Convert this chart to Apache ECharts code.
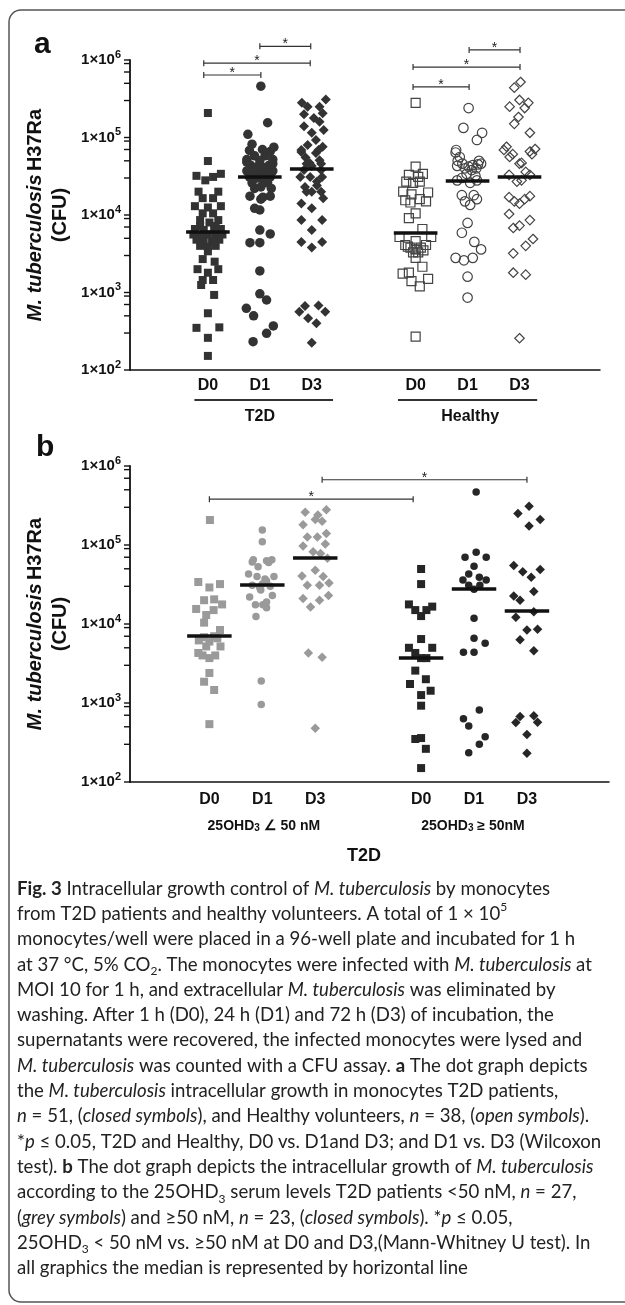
<!DOCTYPE html>
<html>
<head>
<meta charset="utf-8">
<script src="https://cdn.jsdelivr.net/npm/echarts@6/dist/echarts.min.js"></script>
<style>
  html, body { margin: 0; padding: 0; background: #fff; }
  #fig { width: 625px; height: 1305px; }
</style>
</head>
<body>
<div id="fig"></div>
<script>
// x slots of the six columns (one empty slot between the two groups)
const slots = [0, 1, 2, 4, 5, 6];
const dayLabels = ['D0', 'D1', 'D3', 'D0', 'D1', 'D3'];
const groupsA = ['T2D', 'Healthy'];
const groupsB = ['25OHD{sub|3} ∠ 50 nM', '25OHD{sub|3} ≥ 50nM'];
// tick marks on the CFU axis: 3, 5, 7, 9 and 10 in every decade
const yTicks = [100, 300, 500, 700, 900, 1000, 3000, 5000, 7000, 9000, 10000,
  30000, 50000, 70000, 90000, 100000, 300000, 500000, 700000, 900000, 1000000];

// panel a, each point: [horizontal spread within the column, CFU]
const aT2dD0 = [[0,2.07e5],[0,4.97e4],[-0.22,3.2e4],[0.25,3.4e4],[0.1,3.1e4],[-0.05,2.8e4],[-0.18,2.0e4],[0.2,2.0e4],
  [-0.1,1.65e4],[0.1,1.65e4],[-0.25,1.3e4],[0.25,1.3e4],[0,1.25e4],[-0.1,1.05e4],[0.1,1.05e4],[-0.15,8.6e3],[0.2,8.6e3],
  [0.03,8.0e3],[-0.25,6.6e3],[0.25,6.6e3],[-0.08,6.4e3],[0.12,6.4e3],[-0.28,5.6e3],[0.28,5.6e3],[-0.15,5.3e3],[0.15,5.3e3],
  [0,5.6e3],[-0.22,4.8e3],[0.22,4.8e3],[-0.08,4.5e3],[0.08,4.5e3],[-0.15,4.0e3],[0.15,4.0e3],[0,3.9e3],[0,3.4e3],
  [-0.1,2.7e3],[0.13,2.5e3],[-0.2,2.0e3],[0.2,2.0e3],[0,1.8e3],[-0.1,1.45e3],[0.1,1.45e3],[-0.13,1.25e3],[0.12,930],
  [0,540],[-0.22,350],[0.22,355],[0,260],[0,152],[-0.15,7.2e3],[0.15,7.2e3]];
const aT2dD1 = [[0.02,4.6e5],[0.15,1.55e5],[-0.23,1.1e5],[-0.15,8.2e4],[0.27,7.5e4],[0.05,7.0e4],[-0.2,6.8e4],[0.2,6.6e4],
  [-0.1,5.8e4],[0.1,5.8e4],[-0.25,5.2e4],[0.25,5.2e4],[0,5.0e4],[-0.18,4.4e4],[0.18,4.4e4],[-0.05,4.2e4],[0.08,4.1e4],
  [-0.25,3.7e4],[0.25,3.7e4],[-0.1,3.5e4],[0.1,3.5e4],[0,3.4e4],[-0.2,3.1e4],[0.2,3.1e4],[-0.05,3.0e4],[0.05,2.9e4],
  [-0.15,2.6e4],[0.15,2.6e4],[-0.1,2.2e4],[0.22,2.2e4],[0.02,2.3e4],[-0.19,1.75e4],[0.06,1.7e4],[0.2,1.75e4],[0.02,1.6e4],
  [-0.1,1.22e4],[0,1.16e4],[0,6.4e3],[0.2,5.7e3],[-0.19,4.4e3],[0,4.4e3],[0,1.9e3],[0,960],[0.13,800],[-0.26,625],
  [-0.12,500],[0.26,370],[0.13,297],[-0.13,232],[-0.25,4.8e4],[0.25,4.6e4]];
const aT2dD3 = [[0.27,3.1e5],[-0.19,2.8e5],[-0.08,2.5e5],[0.15,2.5e5],[-0.15,2.0e5],[0.21,2.05e5],[0.04,1.78e5],[0.15,1.6e5],
  [-0.15,1.4e5],[0,1.15e5],[0.23,1.25e5],[0.08,9.3e4],[-0.08,8.0e4],[0.21,7.6e4],[0.08,6.3e4],[-0.2,6.5e4],[0.15,5.1e4],
  [-0.04,4.7e4],[-0.2,6.9e4],[0.13,6.9e4],[-0.1,4.6e4],[0.18,4.6e4],[0,4.3e4],[-0.15,3.8e4],[0.18,3.8e4],[-0.22,3.1e4],
  [-0.03,3.1e4],[0.2,3.1e4],[-0.13,2.3e4],[0.1,2.4e4],[0,2.0e4],[0.18,2.0e4],[-0.1,2.0e4],[0.22,1.64e4],[-0.2,1.41e4],
  [0,1.22e4],[-0.2,8.6e3],[0.2,8.6e3],[0,6.4e3],[-0.2,4.5e3],[0.2,4.5e3],[0,3.8e3],[-0.13,670],[0.13,680],[-0.24,566],
  [0.26,566],[-0.07,465],[0.09,400],[0,225],[0.1,2.7e4],[-0.12,5.5e4]];
const aHealthyD0 = [[0,2.8e5],[0,4.2e4],[-0.13,3.3e4],[0.14,3.4e4],[0.05,3.1e4],[-0.18,2.7e4],[0.08,2.7e4],[-0.05,2.6e4],
  [-0.24,2.0e4],[0.24,1.95e4],[-0.08,1.85e4],[0.08,1.6e4],[-0.2,1.55e4],[0.2,1.5e4],[-0.1,1.45e4],[0,1.05e4],[-0.13,9.1e3],
  [0.13,6.6e3],[-0.31,5.2e3],[0.3,5.2e3],[0,4.6e3],[-0.2,4.1e3],[0.2,4.1e3],[-0.1,3.8e3],[0.1,3.8e3],[0,3.6e3],
  [-0.05,3.3e3],[0.05,3.3e3],[0,2.8e3],[0.13,2.15e3],[-0.25,1.75e3],[-0.13,1.8e3],[-0.08,1.4e3],[0.24,1.5e3],[0.08,1.2e3],
  [0,270],[-0.15,3.9e3],[0.15,3.5e3]];
const aHealthyD1 = [[0.02,2.4e5],[-0.08,1.33e5],[0.28,1.15e5],[0.18,9.3e4],[-0.22,6.9e4],[-0.23,6.4e4],[-0.15,5.6e4],
  [-0.19,5.0e4],[0.22,5.0e4],[0.26,4.6e4],[-0.1,4.6e4],[0.1,4.4e4],[0.02,4.2e4],[-0.05,4.0e4],[0.17,4.0e4],[-0.2,4.3e4],
  [0.2,4.5e4],[0.08,3.8e4],[-0.11,3.0e4],[0.15,3.2e4],[0.05,2.6e4],[0.18,2.8e4],[-0.2,2.8e4],[-0.11,1.8e4],[0.12,1.8e4],
  [-0.05,1.5e4],[0.18,1.6e4],[0.05,1.35e4],[0,7.9e3],[-0.11,5.9e3],[0.13,4.5e3],[0.26,3.6e3],[-0.23,2.8e3],[-0.07,2.6e3],
  [0.1,2.8e3],[0,1.6e3],[0,860],[-0.02,3.4e4]];
const aHealthyD3 = [[0.02,5.2e5],[-0.1,4.4e5],[0,3.05e5],[0.17,2.8e5],[-0.19,2.5e5],[0.1,2.4e5],[-0.02,1.84e5],[-0.1,1.5e5],
  [0.2,1.15e5],[-0.25,7.6e4],[0.3,7.1e4],[-0.13,6.1e4],[0.24,6.1e4],[-0.3,6.9e4],[0.2,6.6e4],[0.04,4.7e4],[-0.19,5.6e4],
  [0,4.6e4],[-0.2,3.3e4],[0.12,3.6e4],[0.2,3.3e4],[-0.05,2.7e4],[0.04,2.8e4],[-0.2,1.7e4],[-0.1,1.5e4],[0,1.4e4],
  [0.1,1.6e4],[0.2,1.75e4],[-0.2,1.03e4],[-0.12,6.8e3],[0.2,8.6e3],[0.26,4.9e3],[0.12,4.0e3],[-0.12,3.2e3],[-0.12,1.8e3],
  [0.12,1.7e3],[0,257],[0,7.3e3]];
const aMedians = [6.0e3, 3.1e4, 3.9e4, 5.9e3, 2.8e4, 3.1e4];
// brackets: [from slot, to slot, height in CFU]
const aBrackets = [[-0.08,1.02,6.4e5],[-0.08,1.97,9.1e5],[1,1.98,1.5e6],[3.95,5.03,4.5e5],[3.95,6.01,8.1e5],[5.03,6.01,1.35e6]];

// panel b
const bLowD0 = [[0.01,2.07e5],[-0.21,3.4e4],[0,2.9e4],[0.2,3.2e4],[-0.1,2.0e4],[0.09,2.05e4],[0.24,1.77e4],[-0.25,1.55e4],
  [0.08,1.5e4],[-0.06,1.3e4],[-0.1,1.04e4],[0.2,8.4e3],[-0.1,6.8e3],[0.09,7.0e3],[0,6.0e3],[-0.06,5.2e3],[0.21,5.2e3],
  [-0.21,4.3e3],[0.11,4.0e3],[0,3.7e3],[-0.13,4.0e3],[0,2.4e3],[-0.1,1.86e3],[0.09,1.46e3],[0,540],[0.15,6.6e3],[-0.2,6.2e3]];
const bLowD1 = [[0,1.55e5],[0,1.1e5],[-0.17,6.5e4],[0.08,6.3e4],[0.18,6.5e4],[-0.08,5.3e4],[-0.26,4.3e4],[-0.1,4.0e4],
  [0.05,3.7e4],[0.22,4.0e4],[-0.19,3.1e4],[-0.03,2.7e4],[0.15,3.0e4],[0.08,3.5e4],[-0.24,2.2e4],[0.19,2.3e4],[-0.13,1.75e4],
  [0.01,1.75e4],[0.08,1.6e4],[0.08,1.9e4],[-0.12,1.24e4],[-0.02,1.9e3],[-0.02,960],[-0.19,6.1e4],[0.12,6.0e4],[0,3.2e4],
  [-0.05,2.9e4]];
const bLowD3 = [[-0.19,2.6e5],[0.21,2.8e5],[0.05,2.4e5],[-0.23,1.8e5],[0,2.1e5],[0.13,2.0e5],[-0.15,1.26e5],[0.04,1.26e5],
  [0.21,1.4e5],[-0.23,9.7e4],[0.19,1.03e5],[-0.04,8.2e4],[0.1,7.8e4],[0.23,6.8e4],[0,4.8e4],[-0.25,4.06e4],[0.15,4.0e4],
  [-0.15,3.1e4],[0.08,3.1e4],[0.26,3.3e4],[-0.23,2.1e4],[0.08,2.0e4],[0.25,2.3e4],[-0.09,1.64e4],[-0.13,4.3e3],[0.13,3.8e3],
  [0,478]];
const bHighD0 = [[0,4.97e4],[0,3.2e4],[-0.23,1.77e4],[0.21,1.66e4],[-0.11,1.5e4],[0.1,1.5e4],[0,1.26e4],[0,6.45e3],
  [-0.23,5.0e3],[0.21,5.0e3],[-0.11,4.3e3],[0,3.7e3],[0.1,3.7e3],[-0.11,2.57e3],[0.09,2.0e3],[-0.21,1.74e3],[0.18,1.43e3],
  [0,1.26e3],[0,925],[-0.11,350],[0,360],[0.09,263],[0,150]];
const bHighD1 = [[0.04,4.7e5],[-0.17,7.0e4],[0.04,8.1e4],[0.23,7.0e4],[0,5.4e4],[-0.1,4.3e4],[0.1,3.9e4],[-0.21,3.6e4],
  [0.23,3.6e4],[-0.1,3.1e4],[0.11,3.1e4],[0,2.75e4],[0,1.18e4],[0,6.6e3],[0.21,5.7e3],[-0.2,4.4e3],[0,4.4e3],[0.1,814],
  [-0.2,630],[-0.1,513],[0.21,373],[0.1,300],[-0.1,234]];
const bHighD3 = [[0.04,3.1e5],[-0.17,2.5e5],[0.25,2.1e5],[0.04,1.74e5],[-0.25,5.5e4],[-0.08,4.6e4],[0.25,4.9e4],[0.08,3.9e4],
  [0.13,2.57e4],[-0.25,2.26e4],[-0.13,2.0e4],[0.13,1.43e4],[-0.21,1.22e4],[0,8.4e3],[0.2,8.6e3],[-0.13,6.3e3],[0.13,4.6e3],
  [-0.13,675],[0.13,690],[-0.21,565],[0.2,570],[0,400],[0,231]];
const bMedians = [7.0e3, 3.1e4, 6.8e4, 3.7e3, 2.8e4, 1.46e4];
const bBrackets = [[0,3.85,3.8e5],[2.13,6,6.7e5]];

const sans = '"Liberation Sans", Arial, sans-serif';
const ink = '#111';

function xAxis(g, margin) {
  return {
    type: 'value', gridIndex: g, min: -1.5, max: 7.55,
    axisLine: { show: true, onZero: false, lineStyle: { color: ink, width: 1.5 } },
    axisTick: { show: false },
    splitLine: { show: false },
    axisLabel: {
      customValues: slots, margin: margin,
      formatter: v => dayLabels[slots.indexOf(v)],
      color: ink, fontFamily: sans, fontSize: 16, fontWeight: 'bold'
    }
  };
}

function yAxis(g) {
  return {
    type: 'log', gridIndex: g, min: 100, max: 1e6, logBase: 10,
    axisLine: { show: true, onZero: false, lineStyle: { color: ink, width: 1.8 } },
    axisTick: { show: false },
    minorTick: { show: false },
    splitLine: { show: false },
    axisLabel: {
      margin: 9,
      formatter: v => '{m|1×10}{s|' + Math.round(Math.log10(v)) + '}',
      rich: {
        m: { fontFamily: sans, fontSize: 15, fontWeight: 'bold', color: ink, lineHeight: 22 },
        s: { fontFamily: sans, fontSize: 11, fontWeight: 'bold', color: ink, verticalAlign: 'top', lineHeight: 12 }
      }
    },
    name: '{it|M. tuberculosis} {nb|H37Ra}\n{nb|(CFU)}',
    nameLocation: 'middle', nameRotate: 90, nameGap: 55,
    nameTextStyle: {
      rich: {
        it: { fontFamily: sans, fontSize: 20, fontWeight: 'bold', fontStyle: 'italic', color: ink, lineHeight: 25 },
        nb: { fontFamily: sans, fontSize: 20, fontWeight: 'bold', color: ink, lineHeight: 25 }
      }
    }
  };
}

function dots(g, col, pts, symbol, size, fill, stroke, medians) {
  const slot = slots[col];
  return {
    type: 'scatter', xAxisIndex: g, yAxisIndex: g, silent: true,
    symbol: symbol, symbolSize: size,
    itemStyle: { color: fill, borderColor: stroke || fill, borderWidth: stroke ? 1.2 : 0, opacity: 1 },
    data: pts.map(p => [slot + p[0], p[1]]),
    markLine: {
      silent: true, symbol: 'none', label: { show: false },
      lineStyle: { color: ink, width: 3.5, type: 'solid' },
      data: [[{ coord: [slot - 0.42, medians[col]] }, { coord: [slot + 0.42, medians[col]] }]]
    }
  };
}

const dark = '#333';
const open = 'rgba(255,255,255,0)';
const grey = '#9a9a9a';
const black = '#262626';

const option = {
  animation: false,
  grid: [
    { left: 130, top: 60, width: 470, height: 310 },
    { left: 130, top: 466, width: 479, height: 316 }
  ],
  xAxis: [xAxis(0, 8), xAxis(1, 10)],
  yAxis: [yAxis(0), yAxis(1)],
  series: [
    dots(0, 0, aT2dD0, 'rect', 8, dark, null, aMedians),
    dots(0, 1, aT2dD1, 'circle', 9.5, dark, null, aMedians),
    dots(0, 2, aT2dD3, 'diamond', 10, dark, null, aMedians),
    dots(0, 3, aHealthyD0, 'rect', 9, open, '#444', aMedians),
    dots(0, 4, aHealthyD1, 'circle', 9.5, open, '#444', aMedians),
    dots(0, 5, aHealthyD3, 'diamond', 9.5, open, '#444', aMedians),
    dots(1, 0, bLowD0, 'rect', 8, grey, null, bMedians),
    dots(1, 1, bLowD1, 'circle', 7.5, grey, null, bMedians),
    dots(1, 2, bLowD3, 'diamond', 9.5, grey, null, bMedians),
    dots(1, 3, bHighD0, 'rect', 8, black, null, bMedians),
    dots(1, 4, bHighD1, 'circle', 7.5, black, null, bMedians),
    dots(1, 5, bHighD3, 'diamond', 9.5, black, null, bMedians)
  ]
};

const chart = echarts.init(document.getElementById('fig'), null, { renderer: 'canvas' });
chart.setOption(option);

// annotations placed through the axes once the layout exists
const toPx = (s, x, y) => chart.convertToPixel({ seriesIndex: s }, [x, y]);
const gfx = [];
function seg(x1, y1, x2, y2, w, color) {
  return { type: 'line', silent: true, z: 10, shape: { x1, y1, x2, y2 },
    style: { stroke: color || '#333', lineWidth: w || 1.2 } };
}
function label(x, y, text, size, extra) {
  return { type: 'text', silent: true, x, y,
    style: Object.assign({ text, fontFamily: sans, fontSize: size, fontWeight: 'bold', fill: ink,
      align: 'center', verticalAlign: 'middle' }, extra || {}) };
}

// tick marks on the left of each CFU axis
[0, 6].forEach(s => {
  yTicks.forEach(v => {
    const p = toPx(s, -1.5, v);
    gfx.push(seg(p[0] - 6, p[1], p[0], p[1], 1.4, ink));
  });
});

function brackets(s, list) {
  list.forEach(b => {
    const p1 = toPx(s, b[0], b[2]);
    const p2 = toPx(s, b[1], b[2]);
    const y = p1[1];
    gfx.push(seg(p1[0], y, p2[0], y));
    gfx.push(seg(p1[0], y - 3, p1[0], y + 3));
    gfx.push(seg(p2[0], y - 3, p2[0], y + 3));
    gfx.push(label((p1[0] + p2[0]) / 2, y - 2, '*', 14, { fontWeight: 'normal', fill: '#222' }));
  });
}
brackets(0, aBrackets);
brackets(6, bBrackets);

// panel a group underlines and names
const axisA = toPx(0, 0, 100)[1];
[[-0.26, 2.41], [3.66, 6.34]].forEach((span, i) => {
  const l = toPx(0, span[0], 100)[0], r = toPx(0, span[1], 100)[0];
  gfx.push(seg(l, axisA + 30, r, axisA + 30, 2));
  gfx.push(label(toPx(0, [1.0, 5.05][i], 100)[0], axisA + 47, groupsA[i], 16));
});

// panel b group names
const axisB = toPx(6, 0, 100)[1];
[1.03, 4.98].forEach((c, i) => {
  gfx.push(label(toPx(6, c, 100)[0], axisB + 44, groupsB[i], 14, {
    rich: { sub: { fontFamily: sans, fontSize: 10, fontWeight: 'bold', fill: ink, verticalAlign: 'bottom', lineHeight: 12 } }
  }));
});
gfx.push(label(toPx(6, 2.92, 100)[0], axisB + 74, 'T2D', 18));

// panel letters and frame
gfx.push(label(34, 45, 'a', 30, { align: 'left' }));
gfx.push(label(36, 448, 'b', 30, { align: 'left' }));
gfx.push({ type: 'rect', silent: true, shape: { x: 9, y: 10, width: 640, height: 1292, r: 12 },
  style: { fill: 'none', stroke: '#555', lineWidth: 1.5 } });

// figure caption
const captionLines = [
  '{b|Fig. 3} Intracellular growth control of {i|M. tuberculosis} by monocytes',
  'from T2D patients and healthy volunteers. A total of 1 × 10{sup|5}',
  'monocytes/well were placed in a 96-well plate and incubated for 1 h',
  'at 37 °C, 5% CO{sub|2}. The monocytes were infected with {i|M. tuberculosis} at',
  'MOI 10 for 1 h, and extracellular {i|M. tuberculosis} was eliminated by',
  'washing. After 1 h (D0), 24 h (D1) and 72 h (D3) of incubation, the',
  'supernatants were recovered, the infected monocytes were lysed and',
  '{i|M. tuberculosis} was counted with a CFU assay. {b|a} The dot graph depicts',
  'the {i|M. tuberculosis} intracellular growth in monocytes T2D patients,',
  '{i|n} = 51, ({i|closed symbols}), and Healthy volunteers, {i|n} = 38, ({i|open symbols}).',
  '*{i|p} ≤ 0.05, T2D and Healthy, D0 vs. D1and D3; and D1 vs. D3 (Wilcoxon',
  'test). {b|b} The dot graph depicts the intracellular growth of {i|M. tuberculosis}',
  'according to the 25OHD{sub|3} serum levels T2D patients <50 nM, {i|n} = 27,',
  '({i|grey symbols}) and ≥50 nM, {i|n} = 23, ({i|closed symbols}). *{i|p} ≤ 0.05,',
  '25OHD{sub|3} < 50 nM vs. ≥50 nM at D0 and D3,(Mann-Whitney U test). In',
  'all graphics the median is represented by horizontal line'
];
const capFont = 'Lato, "Open Sans", sans-serif';
const capSize = 18.6;
const capLH = 25.3;
const capBase = { fontFamily: capFont, fontSize: capSize, lineHeight: capLH, fill: '#222' };
gfx.push({
  type: 'text', silent: true, x: 17, y: 876,
  style: Object.assign({
    text: captionLines.join('\n'), align: 'left', verticalAlign: 'top',
    rich: {
      b: Object.assign({}, capBase, { fontWeight: 'bold' }),
      i: Object.assign({}, capBase, { fontStyle: 'italic' }),
      sub: { fontFamily: capFont, fontSize: 12, fill: '#222', verticalAlign: 'bottom', lineHeight: 19 },
      sup: { fontFamily: capFont, fontSize: 12, fill: '#222', verticalAlign: 'top', lineHeight: 15 }
    }
  }, capBase)
});

chart.setOption({ graphic: { elements: gfx } });
</script>
</body>
</html>
